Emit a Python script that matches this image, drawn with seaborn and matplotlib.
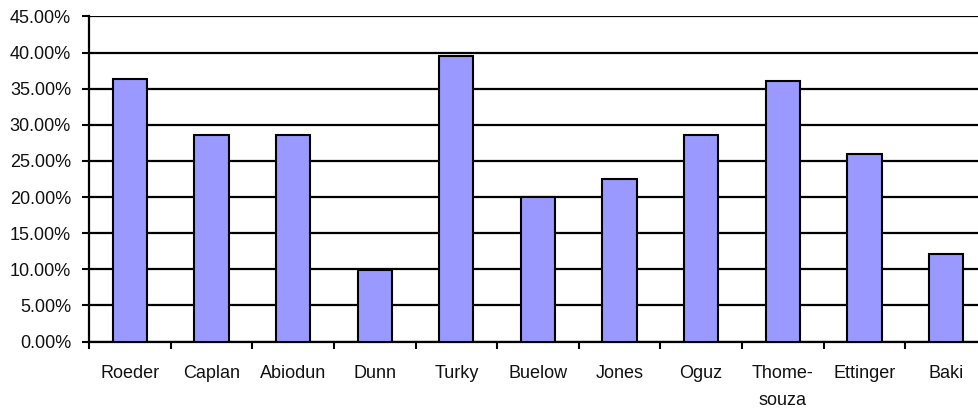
import matplotlib
matplotlib.use("Agg")
import matplotlib.pyplot as plt
import matplotlib.ticker as mticker
import seaborn as sns
import numpy as np

# data
studies = ["Roeder", "Caplan", "Abiodun", "Dunn", "Turky", "Buelow",
           "Jones", "Oguz", "Thome-\nsouza", "Ettinger", "Baki"]
rates = [0.364, 0.286, 0.286, 0.099, 0.395, 0.200,
         0.225, 0.286, 0.360, 0.260, 0.121]

sns.set_style("white")
plt.rcParams["font.family"] = ["Liberation Sans", "DejaVu Sans"]

fig = plt.figure(figsize=(9.79, 4.12), dpi=100)
ax = fig.add_axes([0.091, 0.171, 0.917, 0.789])

sns.barplot(x=studies, y=rates, color="#9999FF", saturation=1, width=0.42,
            edgecolor="black", linewidth=1.5, ax=ax, zorder=3)

ax.set_ylim(0, 0.45)
ax.set_xlim(-0.5, len(studies) - 0.5)
ax.yaxis.set_major_locator(mticker.MultipleLocator(0.05))
ax.yaxis.set_major_formatter(mticker.FuncFormatter(lambda v, p: f"{v*100:.2f}%"))
ax.grid(axis="y", color="black", linewidth=1.6, zorder=0)
ax.set_axisbelow(True)

for side in ["top", "right"]:
    ax.spines[side].set_visible(False)
for side in ["left", "bottom"]:
    ax.spines[side].set_color("black")
    ax.spines[side].set_linewidth(1.6)

ax.tick_params(axis="y", left=True, length=5, width=1.5, color="black",
               labelsize=13, pad=8, labelcolor="#111111")
ax.tick_params(axis="x", bottom=True, length=0, labelsize=13, pad=17,
               labelcolor="#111111")
ax.set_xticks(np.arange(-0.5, len(studies)), minor=True)
ax.tick_params(axis="x", which="minor", bottom=True, length=5, width=1.5,
               color="black")
for lbl in ax.get_xticklabels():
    lbl.set_multialignment("center")
    lbl.set_verticalalignment("top")
    lbl.set_linespacing(1.75)

ax.set_xlabel("")
ax.set_ylabel("")

fig.savefig("out.png", dpi=100)
